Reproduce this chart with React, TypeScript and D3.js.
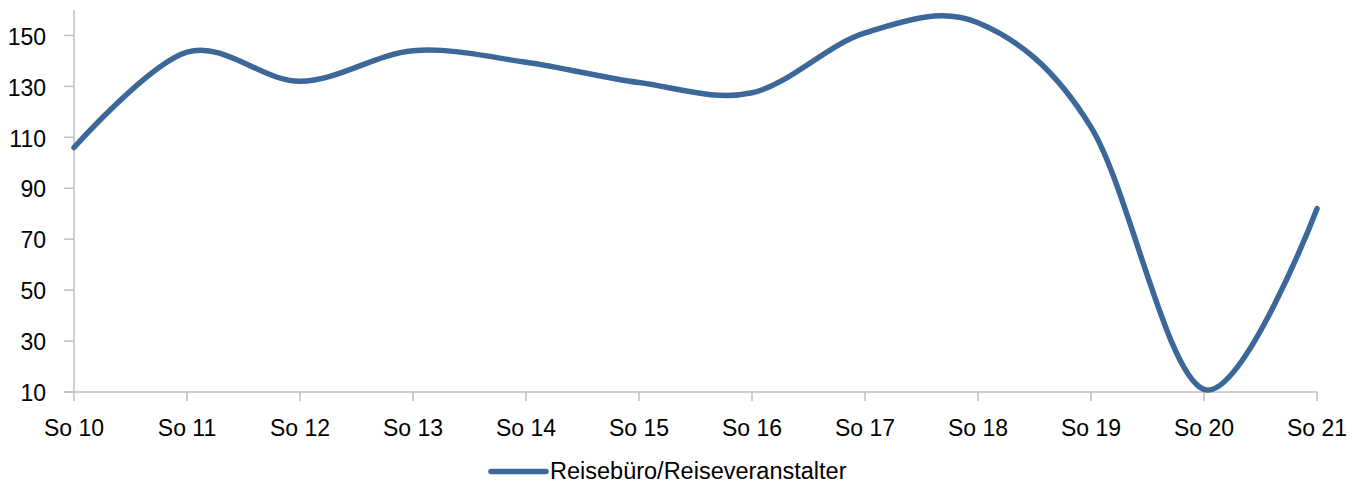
import React from 'react'
import * as d3 from 'd3'

const categories = ['So 10', 'So 11', 'So 12', 'So 13', 'So 14', 'So 15', 'So 16', 'So 17', 'So 18', 'So 19', 'So 20', 'So 21']
const values = [106, 143.5, 132, 144, 139.5, 131.5, 127.5, 151, 155, 114, 11, 82]
const yTicks = [10, 30, 50, 70, 90, 110, 130, 150]
const seriesName = 'Reisebüro/Reiseveranstalter'

const W = 1362
const H = 485
const margin = { top: 10, right: 45, bottom: 93, left: 74 }
const lineColor = '#3c6799'
const axisColor = '#bfbfbf'
const font = '"Liberation Sans", Arial, sans-serif'

export default function App() {
  const x = d3.scalePoint<string>()
    .domain(categories)
    .range([margin.left, W - margin.right])
  const y = d3.scaleLinear()
    .domain([10, 160])
    .range([H - margin.bottom, margin.top])

  // Excel-style smoothed line
  const line = d3.line<number>()
    .x((d, i) => x(categories[i])!)
    .y(d => y(d))
    .curve(d3.curveCardinal.tension(0))

  const y0 = y(10)

  return (
    <svg width={W} height={H} style={{ position: 'absolute', left: 0, top: 0 }} fontFamily={font}>
      {/* y axis */}
      <line x1={margin.left} x2={margin.left} y1={margin.top} y2={y0} stroke={axisColor} strokeWidth={1.5} />
      {yTicks.map(t => (
        <g key={t}>
          <line x1={margin.left - 10} x2={margin.left} y1={y(t)} y2={y(t)} stroke={axisColor} strokeWidth={1.5} />
          <text x={46} y={y(t)} dy="0.4em" textAnchor="end" fontSize={23} fill="#000">{t}</text>
        </g>
      ))}
      {/* x axis */}
      <line x1={margin.left - 10} x2={W - margin.right} y1={y0} y2={y0} stroke={axisColor} strokeWidth={1.5} />
      {categories.map(c => (
        <g key={c}>
          <line x1={x(c)} x2={x(c)} y1={y0} y2={y0 + 9} stroke={axisColor} strokeWidth={1.5} />
          <text x={x(c)} y={y0 + 44} textAnchor="middle" fontSize={23} fill="#000">{c}</text>
        </g>
      ))}
      <path d={line(values)!} fill="none" stroke={lineColor} strokeWidth={5.5} strokeLinecap="round" />
      {/* legend */}
      <line x1={491} x2={546} y1={471.5} y2={471.5} stroke={lineColor} strokeWidth={5.5} strokeLinecap="round" />
      <text x={550} y={479} fontSize={23.5} fill="#000">{seriesName}</text>
    </svg>
  )
}
